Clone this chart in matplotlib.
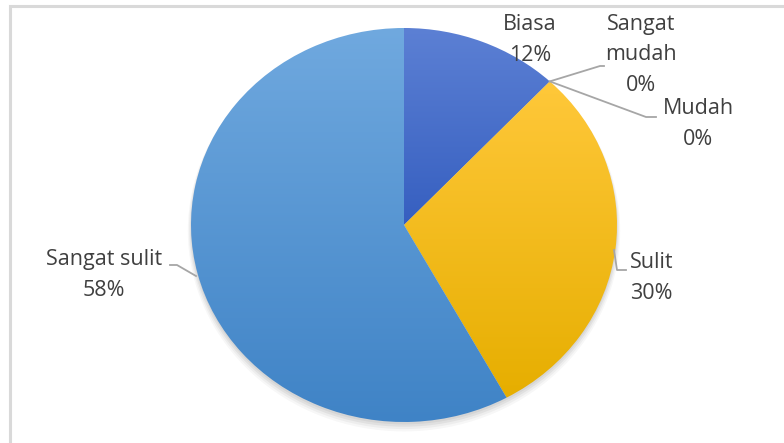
import numpy as np
import matplotlib.pyplot as plt
from matplotlib.colors import LinearSegmentedColormap
from matplotlib.patches import Ellipse

# Tingkat kesulitan menurut responden (persen), urutan searah jarum jam dari atas
labels = ['Biasa', 'Sangat\nmudah', 'Mudah', 'Sulit', 'Sangat sulit']
values = [12, 0, 0, 30, 58]
# warna atas / bawah tiap irisan (isi bergradasi)
top_colors = ['#5C80D4', '#A5A5A5', '#70AD47', '#FFC83A', '#70A9DF']
bottom_colors = ['#365FC0', '#8C8C8C', '#5E9A38', '#E6AE00', '#3F83C6']

W, H = 784, 443
cx, cy = 404, 225      # pusat pie (piksel)
rx, ry = 213, 197      # jari-jari horizontal / vertikal (piksel)

plt.rcParams['font.family'] = ['Open Sans', 'DejaVu Sans']

fig = plt.figure(figsize=(W / 100, H / 100), dpi=100)
ax = fig.add_axes([0, 0, 1, 1])

# bingkai area grafik
frame = fig.add_axes([0, 0, 1, 1], zorder=-1)
frame.set_xlim(0, W)
frame.set_ylim(H, 0)
frame.axis('off')
frame.plot([10, 10, W + 5], [H + 5, 6, 6], color='#D9D9D9', lw=2.2,
           solid_joinstyle='miter')

wedges, _ = ax.pie(values, startangle=90, counterclock=False, radius=1,
                   wedgeprops=dict(linewidth=0, edgecolor='none'))

# bayangan tipis di bawah pie
for i, a in enumerate([0.05, 0.05, 0.04, 0.03]):
    sh = Ellipse((0, -0.012 - 0.006 * i), 2 + 0.01 * i, 2 + 0.012 * i,
                 color='black', alpha=a, lw=0, zorder=0)
    ax.add_patch(sh)

# isi gradasi vertikal tiap irisan, mengikuti tinggi irisan itu sendiri
grad = np.linspace(0, 1, 256).reshape(-1, 1)
for w, c1, c2, v in zip(wedges, top_colors, bottom_colors, values):
    w.set_zorder(1)
    if v == 0:
        continue
    verts = w.get_path().vertices
    y0, y1 = verts[:, 1].min(), verts[:, 1].max()
    cmap = LinearSegmentedColormap.from_list('g', [c1, c2])
    w.set_facecolor('none')
    im = ax.imshow(grad, cmap=cmap, aspect='auto', extent=[-1, 1, y0, y1],
                   origin='upper', zorder=2, interpolation='bilinear')
    im.set_clip_path(w)

ax.set_aspect('auto')
ax.set_xlim(-cx / rx, (W - cx) / rx)
ax.set_ylim(-(H - cy) / ry, cy / ry)
ax.axis('off')


def px(x, y):
    return (x - cx) / rx, (cy - y) / ry


def leader(points):
    xs, ys = zip(*[px(*p) for p in points])
    ax.plot(xs, ys, **line)


txt = dict(fontsize=15.5, color='#404040', linespacing=1.62, zorder=5)
line = dict(color='#A6A6A6', lw=1.3, zorder=4)

# titik tepi pada batas Biasa (12%)
theta = np.deg2rad(90 - 360 * sum(values[:1]) / 100)
ex, ey = np.cos(theta), np.sin(theta)

ax.text(*px(530, 40), f'{labels[0]}\n{values[0]}%', ha='center', va='center', **txt)

ax.plot([ex, px(600, 66)[0], px(604, 66)[0]],
        [ey, px(600, 66)[1], px(604, 66)[1]], **line)
ax.text(*px(641, 55), f'{labels[1]}\n{values[1]}%', ha='center', va='center', **txt)

ax.plot([ex, px(646, 117)[0], px(656, 117)[0]],
        [ey, px(646, 117)[1], px(656, 117)[1]], **line)
ax.text(*px(698, 124), f'{labels[2]}\n{values[2]}%', ha='center', va='center', **txt)

leader([(614, 250), (617, 270), (626, 270)])
ax.text(*px(630, 278), f'{labels[3]}\n{values[3]}%', ha='left', va='center', **txt)

leader([(170, 265), (177, 265), (196, 276)])
ax.text(*px(104, 275), f'{labels[4]}\n{values[4]}%', ha='center', va='center', **txt)

fig.savefig('out.png', dpi=100, facecolor='white')
